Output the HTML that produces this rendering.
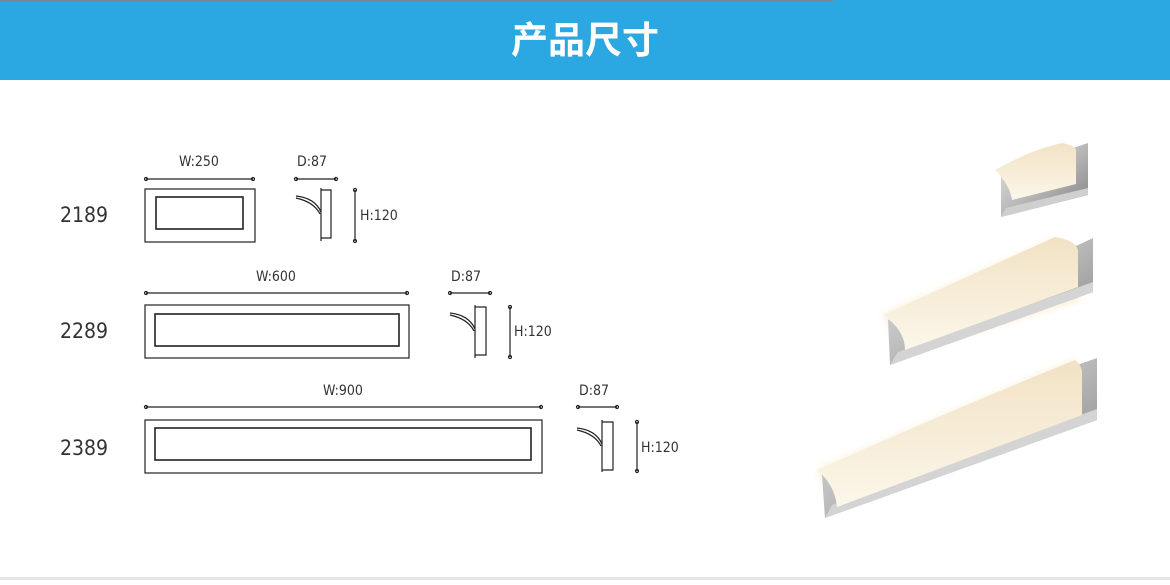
<!DOCTYPE html>
<html><head><meta charset="utf-8"><style>
body{margin:0;width:1170px;height:580px;background:#fff;overflow:hidden;font-family:"Liberation Sans","Noto Sans CJK SC",sans-serif}
</style></head><body>
<svg width="1170" height="580" viewBox="0 0 1170 580" xmlns="http://www.w3.org/2000/svg">
<defs>
<linearGradient id="cr" x1="0" y1="0" x2="1" y2="1"><stop offset="0" stop-color="#e8e8e8"/><stop offset="0.5" stop-color="#b9b9b9"/><stop offset="1" stop-color="#7d7d7d"/></linearGradient>
<linearGradient id="sh" x1="0" y1="0" x2="0" y2="1"><stop offset="0" stop-color="#f1e2c4"/><stop offset="1" stop-color="#fcf7ea"/></linearGradient>
<filter id="gl" x="-20%" y="-50%" width="140%" height="200%"><feGaussianBlur stdDeviation="4"/></filter>
</defs>
<rect x="0" y="0" width="1170" height="80" fill="#2ba7e1"/>
<rect x="0" y="0" width="833" height="2" fill="#7a8a95"/>
<text x="585" y="53" text-anchor="middle" font-size="37" font-weight="bold" fill="#fff" font-family="'Noto Sans CJK SC',sans-serif">产品尺寸</text>
<rect x="0" y="577" width="1170" height="3" fill="#e6e6e6"/>

<g fill="none" stroke="#222" stroke-width="1.2">
<line x1="146" y1="179" x2="253" y2="179"/><circle cx="146" cy="179" r="1.5"/><circle cx="253" cy="179" r="1.5"/>
<rect x="145" y="189" width="110" height="53"/><rect x="156" y="197" width="87" height="32" stroke-width="1.6"/>
<line x1="296" y1="179" x2="336" y2="179"/><circle cx="296" cy="179" r="1.5"/><circle cx="336" cy="179" r="1.5"/>
<path d="M321 188 V241 M321 190 H331 V238 H321 M296 196 Q315 198 321 212 M296 198 Q314 202 320 214"/>
<line x1="355" y1="190" x2="355" y2="241"/><circle cx="355" cy="190" r="1.5"/><circle cx="355" cy="241" r="1.5"/>
<line x1="146" y1="293" x2="407" y2="293"/><circle cx="146" cy="293" r="1.5"/><circle cx="407" cy="293" r="1.5"/>
<rect x="145" y="305" width="264" height="53"/><rect x="155" y="314" width="244" height="32" stroke-width="1.6"/>
<line x1="450" y1="293" x2="490" y2="293"/><circle cx="450" cy="293" r="1.5"/><circle cx="490" cy="293" r="1.5"/>
<path d="M475 305 V358 M475 307 H486 V355 H475 M450 313 Q469 315 475 329 M450 315 Q468 319 474 331"/>
<line x1="510" y1="307" x2="510" y2="357"/><circle cx="510" cy="307" r="1.5"/><circle cx="510" cy="357" r="1.5"/>
<line x1="146" y1="407" x2="541" y2="407"/><circle cx="146" cy="407" r="1.5"/><circle cx="541" cy="407" r="1.5"/>
<rect x="145" y="420" width="397" height="53"/><rect x="155" y="428" width="376" height="32" stroke-width="1.6"/>
<line x1="578" y1="407" x2="617" y2="407"/><circle cx="578" cy="407" r="1.5"/><circle cx="617" cy="407" r="1.5"/>
<path d="M602 420 V472 M602 422 H613 V470 H602 M577 428 Q596 430 602 444 M577 430 Q595 434 601 446"/>
<line x1="637" y1="422" x2="637" y2="471"/><circle cx="637" cy="422" r="1.5"/><circle cx="637" cy="471" r="1.5"/>
</g>
<g font-family="'DejaVu Sans Condensed','Liberation Sans',sans-serif" fill="#333">
<text x="199" y="166" font-size="14" text-anchor="middle">W:250</text>
<text x="312" y="166" font-size="14" text-anchor="middle">D:87</text>
<text x="360" y="220" font-size="14">H:120</text>
<text x="276" y="281" font-size="14" text-anchor="middle">W:600</text>
<text x="466" y="281" font-size="14" text-anchor="middle">D:87</text>
<text x="514" y="336" font-size="14">H:120</text>
<text x="343" y="395" font-size="14" text-anchor="middle">W:900</text>
<text x="594" y="395" font-size="14" text-anchor="middle">D:87</text>
<text x="641" y="452" font-size="14">H:120</text>
<text x="60" y="222" font-size="21">2189</text>
<text x="60" y="338" font-size="21">2289</text>
<text x="60" y="455" font-size="21">2389</text>
</g>

<g>
<polygon points="1001,217 1088,195 1088,143 1073,148 1001,170" fill="url(#cr)"/>
<polygon points="1001,217 1088,195 1088,188 1006,208" fill="#cfcfcf"/>
<path d="M995,170 Q1030,150 1062,143 Q1076,146 1076,150 L1076,184 L1012,200 Q1010,185 995,170 Z" fill="url(#sh)"/>

<path d="M883,315 L1058,238 L1080,300 L905,352 Z" fill="#f8e2b6" filter="url(#gl)" opacity="0.6"/>
<polygon points="890,365 1093,292 1093,238 1076,246 888,320" fill="url(#cr)"/>
<polygon points="890,365 1093,292 1093,282 898,352" fill="#d4d4d4"/>
<path d="M883,315 Q960,280 1055,237 Q1075,240 1078,250 L1078,287 L905,350 Q905,330 883,315 Z" fill="url(#sh)"/>

<path d="M817,470 L1075,360 L1082,418 L837,508 Z" fill="#f8e2b6" filter="url(#gl)" opacity="0.6"/>
<polygon points="825,518 1097,420 1097,358 1080,364 822,475" fill="url(#cr)"/>
<polygon points="825,518 1097,420 1097,409 832,505" fill="#d4d4d4"/>
<path d="M817,470 Q940,415 1075,360 Q1082,366 1082,372 L1082,415 L837,507 Q835,485 817,470 Z" fill="url(#sh)"/>
</g>
</svg>
</body></html>
